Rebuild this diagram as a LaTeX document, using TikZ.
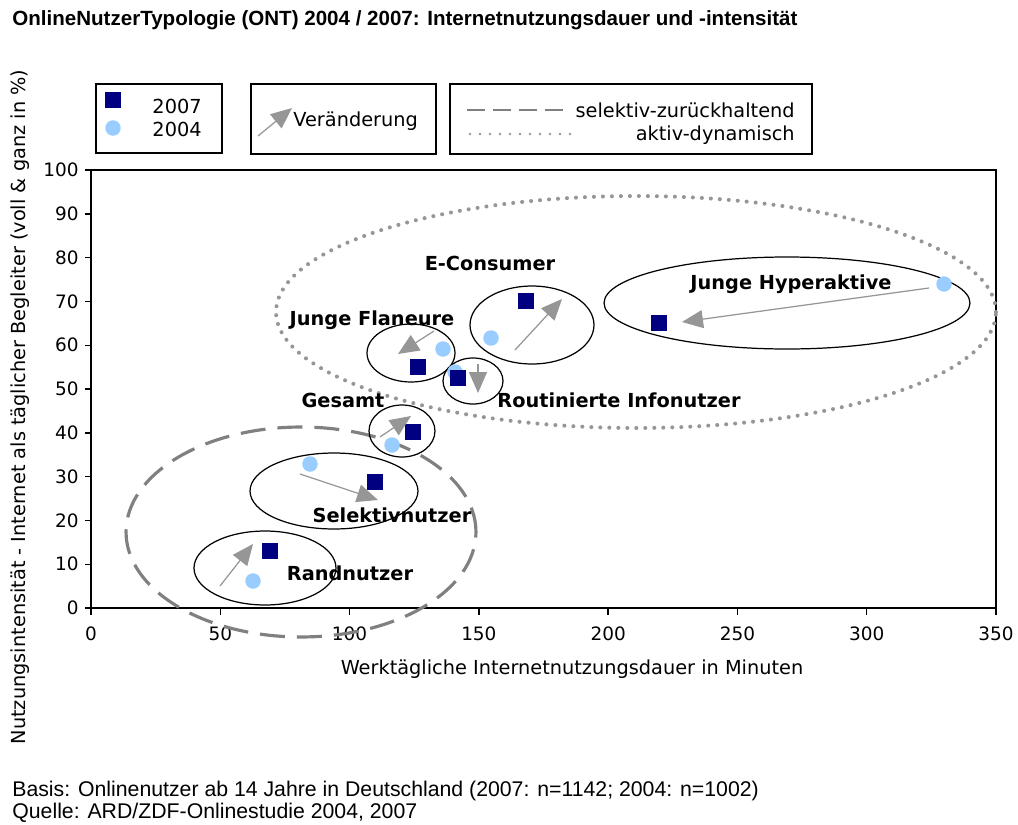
\documentclass[tikz,border=0pt]{standalone}
\usepackage{fontspec}
\usetikzlibrary{arrows.meta,shapes.geometric}
\newfontfamily\verd{DejaVu Sans}
\newfontfamily\arialf{Liberation Sans}
\definecolor{navy}{RGB}{0,0,128}
\definecolor{lblue}{RGB}{153,204,255}
\definecolor{arrgray}{RGB}{150,150,150}
\definecolor{dashgray}{RGB}{128,128,128}
\definecolor{dotgray}{RGB}{150,150,150}
\tikzset{
  sq/.style={fill=navy, minimum size=0.32cm, inner sep=0pt, draw=none},
  ci/.style={circle, fill=lblue, minimum size=0.31cm, inner sep=0pt, draw=none},
  chg/.style={draw=arrgray, line width=0.7pt, -{Triangle[length=0.42cm,width=0.36cm]}},
  grp/.style={draw=black, line width=0.7pt},
  lab/.style={font=\verd\bfseries\fontsize{11}{13}\selectfont, text=black, inner sep=0pt},
  txt/.style={font=\verd\fontsize{11}{13}\selectfont, text=black, inner sep=0pt},
  tick/.style={font=\verd\fontsize{10.5}{12}\selectfont, text=black, inner sep=0pt},
  legbox/.style={draw=black, line width=0.8pt},
  selz/.style={draw=dashgray, line width=1.8pt, dash pattern=on 0.5cm off 0.24cm},
  aktd/.style={draw=dotgray, line width=2.3pt, line cap=round, dash pattern=on 0pt off 0.18cm},
}
\begin{document}
\begin{tikzpicture}[x=0.02cm,y=-0.02cm]
\useasboundingbox (0,0) rectangle (1018,825);
\fill[white] (0,0) rectangle (1018,825);

% title
\node[anchor=west, font=\arialf\bfseries\fontsize{11.7}{13}\selectfont, inner sep=0pt] (title) at (12,20)
  {OnlineNutzerTypologie (ONT) 2004 / 2007: Internetnutzungsdauer und -intensität};

% legend
\draw[legbox] (96,84) rectangle (222,153);
\node[sq] (l07) at (113,100) {};
\node[ci] (l04) at (113,128) {};
\node[txt, anchor=east] (t07) at (202,106) {2007};
\node[txt, anchor=east] (t04) at (202,129) {2004};

\draw[legbox] (251,84) rectangle (436,154);
\coordinate (lva) at (258,136);
\coordinate (lvb) at (292,108);
\draw[chg] (lva) -- (lvb);
\node[txt, anchor=west] (tver) at (293,121) {Veränderung};

\draw[legbox] (450,84) rectangle (812,154);
\coordinate (lda) at (467,110);
\coordinate (ldb) at (566,110);
\draw[draw=dashgray, line width=1.4pt, dash pattern=on 0.36cm off 0.16cm] (lda) -- (ldb);
\node[txt, anchor=east] (tsel) at (795,110) {selektiv-zurückhaltend};
\coordinate (lpa) at (470,134);
\coordinate (lpb) at (578,134);
\draw[draw=dotgray, line width=1.6pt, line cap=round, dash pattern=on 0pt off 0.2cm] (lpa) -- (lpb);
\node[txt, anchor=east] (takt) at (795,135) {aktiv-dynamisch};

% plot frame and ticks
\draw[line width=0.8pt] (91,170) rectangle (996,608);
\foreach \v in {0,10,...,100} {
  \draw[line width=0.8pt] (85,{608-4.38*\v}) -- (91,{608-4.38*\v});
  \node[tick, anchor=east] (yt\v) at (79,{608-4.38*\v}) {\v};
}
\foreach \v in {0,50,...,350} {
  \draw[line width=0.8pt] ({91+2.5857*\v},608) -- ({91+2.5857*\v},615);
  \node[tick] (xt\v) at ({91+2.5857*\v},634) {\v};
}
\node[txt] (xtitle) at (572,669) {Werktägliche Internetnutzungsdauer in Minuten};
\node[txt, rotate=90] (ytitle) at (20,407) {Nutzungsintensität - Internet als täglicher Begleiter (voll \& ganz in \%)};

% big group ellipses
\draw[aktd] (636,312) ellipse [x radius=7.2cm, y radius=2.32cm];
\draw[selz] (301,532) ellipse [x radius=3.5cm, y radius=2.1cm];

% segment ellipses
\draw[grp] (787,303) ellipse [x radius=3.66cm, y radius=0.92cm];
\draw[grp] (532,325) ellipse [x radius=1.24cm, y radius=0.78cm];
\draw[grp] (411,353) ellipse [x radius=0.88cm, y radius=0.58cm];
\draw[grp] (473,381) ellipse [x radius=0.60cm, y radius=0.46cm];
\draw[grp] (402,431) ellipse [x radius=0.66cm, y radius=0.52cm];
\draw[grp] (334,491) ellipse [x radius=1.68cm, y radius=0.76cm];
\draw[grp] (265,568) ellipse [x radius=1.42cm, y radius=0.74cm];

% data points 2004
\node[ci] (hy04) at (944,284) {};
\node[ci] (ec04) at (491,338) {};
\node[ci] (jf04) at (443,349) {};
\node[ci] (ri04) at (455,372) {};
\node[ci] (ge04) at (392,445) {};
\node[ci] (se04) at (310,464) {};
\node[ci] (ra04) at (253,581) {};
% data points 2007
\node[sq] (hy07) at (659,323) {};
\node[sq] (ec07) at (526,301) {};
\node[sq] (jf07) at (418,367) {};
\node[sq] (ri07) at (458,378) {};
\node[sq] (ge07) at (413,432) {};
\node[sq] (se07) at (375,482) {};
\node[sq] (ra07) at (270,551) {};

% change arrows
\coordinate (hya) at (929,288); \coordinate (hyb) at (682,322);
\coordinate (eca) at (515,350); \coordinate (ecb) at (562,299);
\coordinate (jfa) at (434,331); \coordinate (jfb) at (398,354);
\coordinate (ria) at (478,364); \coordinate (rib) at (478,393);
\coordinate (gea) at (380,437); \coordinate (geb) at (411,416);
\coordinate (sea) at (300,474); \coordinate (seb) at (378,500);
\coordinate (raa) at (220,586); \coordinate (rab) at (253,544);
\draw[chg] (hya) -- (hyb);
\draw[chg] (eca) -- (ecb);
\draw[chg] (jfa) -- (jfb);
\draw[chg] (ria) -- (rib);
\draw[chg] (gea) -- (geb);
\draw[chg] (sea) -- (seb);
\draw[chg] (raa) -- (rab);

% labels
\node[lab] (lec) at (490,263) {E-Consumer};
\node[lab] (lhy) at (791,284) {Junge Hyperaktive};
\node[lab] (ljf) at (372,320) {Junge Flaneure};
\node[lab] (lri) at (619,400) {Routinierte Infonutzer};
\node[lab] (lge) at (343,400) {Gesamt};
\node[lab] (lse) at (392,515) {Selektivnutzer};
\node[lab] (lra) at (350,573) {Randnutzer};

% footer
\node[anchor=west, font=\arialf\fontsize{12.1}{14}\selectfont, inner sep=0pt] (basis) at (12,791)
  {Basis: Onlinenutzer ab 14 Jahre in Deutschland (2007: n=1142; 2004: n=1002)};
\node[anchor=west, font=\arialf\fontsize{12.1}{14}\selectfont, inner sep=0pt] (quelle) at (12,813)
  {Quelle: ARD/ZDF-Onlinestudie 2004, 2007};
\end{tikzpicture}
\end{document}
